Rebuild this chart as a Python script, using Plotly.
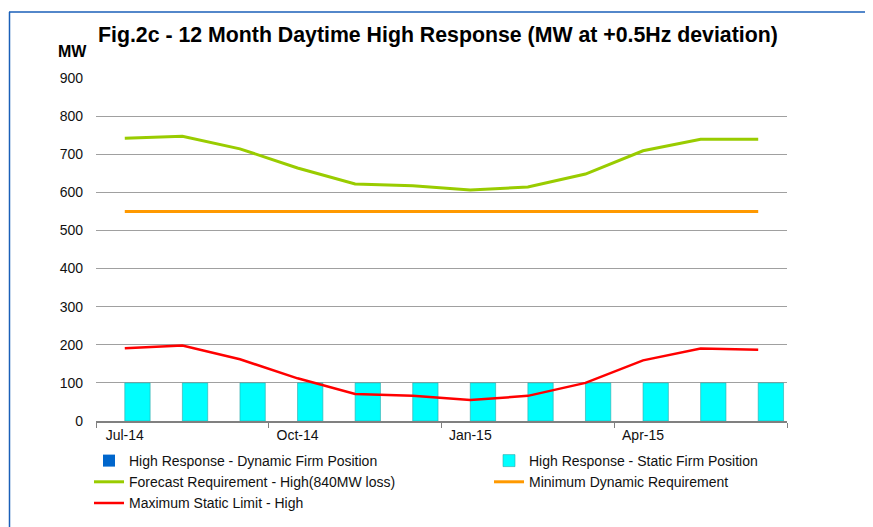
import plotly.graph_objects as go

months = ["Jul-14", "Aug-14", "Sep-14", "Oct-14", "Nov-14", "Dec-14",
          "Jan-15", "Feb-15", "Mar-15", "Apr-15", "May-15", "Jun-15"]
dynamic_firm = [0, 0, 0, 0, 0, 0, 0, 0, 0, 0, 0, 0]
static_firm = [100, 100, 100, 100, 100, 100, 100, 100, 100, 100, 100, 100]
forecast_req = [742, 747, 714, 664, 622, 617, 606, 614, 648, 709, 739, 739]
min_dynamic = [550, 550, 550, 550, 550, 550, 550, 550, 550, 550, 550, 550]
max_static = [191, 198, 162, 112, 71, 66, 55, 66, 100, 159, 190, 187]

FONT = "Liberation Sans, Arial, sans-serif"

fig = go.Figure()
fig.add_trace(go.Bar(x=months, y=dynamic_firm, name="High Response - Dynamic Firm Position",
                     marker=dict(color="#0066CC", line=dict(width=0)), legend="legend"))
fig.add_trace(go.Bar(x=months, y=static_firm, name="High Response - Static Firm Position",
                     marker=dict(color="#00FFFF", line=dict(color="#2fa8a8", width=0.6)),
                     legend="legend2"))
fig.add_trace(go.Scatter(x=months, y=forecast_req, mode="lines",
                         name="Forecast Requirement - High(840MW loss)",
                         line=dict(color="#99CC00", width=3), legend="legend"))
fig.add_trace(go.Scatter(x=months, y=min_dynamic, mode="lines",
                         name="Minimum Dynamic Requirement",
                         line=dict(color="#FF9900", width=3), legend="legend2"))
fig.add_trace(go.Scatter(x=months, y=max_static, mode="lines",
                         name="Maximum Static Limit - High",
                         line=dict(color="#FF0000", width=2.5), legend="legend"))

# page has an 8px body margin, so the figure is sized to fill the rest of the window
OFF = 8
W, H = 873 - OFF, 527 - OFF
# plot area in window pixels: x 96..787, y 78..421
L = 96 - OFF
R = W - (787 - OFF)
T = 78 - OFF
B = H - (421 - OFF)
pw, ph = W - L - R, H - T - B

def px(x):
    return (x - OFF - L) / pw

def py(y):
    return (H - B - (y - OFF)) / ph

legend_common = dict(orientation="v", xanchor="left", yanchor="top", itemwidth=30,
                     font=dict(family=FONT, size=14, color="#111"),
                     traceorder="normal", bgcolor="rgba(0,0,0,0)")

fig.update_layout(
    width=W, height=H,
    margin=dict(l=L, r=R, t=T, b=B, autoexpand=False),
    paper_bgcolor="white", plot_bgcolor="white",
    font=dict(family=FONT, color="#111", size=14),
    barmode="group", bargap=0.12, bargroupgap=0,
    showlegend=True,
    legend=dict(x=px(89), y=py(445), **legend_common),
    legend2=dict(x=px(489), y=py(445), **legend_common),
    xaxis=dict(type="category", tickmode="linear", tick0=0, dtick=3,
               tickson="boundaries", ticks="outside", ticklen=5,
               tickcolor="#808080", showline=True, linecolor="#808080", linewidth=1.5,
               showgrid=False, tickfont=dict(size=14, family=FONT, color="#111"),
               range=[-0.5, 11.5]),
    yaxis=dict(range=[0, 900], dtick=100, showgrid=True, gridcolor="#a0a0a0", gridwidth=1,
               showline=False, zeroline=False, ticks="", ticklabelstandoff=12,
               tickfont=dict(size=14, family=FONT, color="#111")),
    annotations=[
        dict(text="<b>Fig.2c - 12 Month Daytime High Response (MW at +0.5Hz deviation)</b>",
             xref="paper", yref="paper", x=px(438), y=py(35), xanchor="center", yanchor="middle",
             showarrow=False, font=dict(size=21.3, family=FONT, color="#000")),
        dict(text="<b>MW</b>", xref="paper", yref="paper", x=px(72), y=py(51),
             xanchor="center", yanchor="middle", showarrow=False,
             font=dict(size=16, family=FONT, color="#000")),
    ],
    shapes=[
        dict(type="line", xref="paper", yref="paper", x0=px(9), x1=px(868), y0=py(12), y1=py(12),
             line=dict(color="#1a5fb8", width=1.5)),
        dict(type="line", xref="paper", yref="paper", x0=px(9.5), x1=px(9.5), y0=py(12), y1=py(540),
             line=dict(color="#1a5fb8", width=1.5)),
        dict(type="line", xref="paper", yref="paper", x0=px(868), x1=px(868), y0=py(12), y1=py(540),
             line=dict(color="#3a84d4", width=3)),
    ],
)

fig.write_html("out.html")
